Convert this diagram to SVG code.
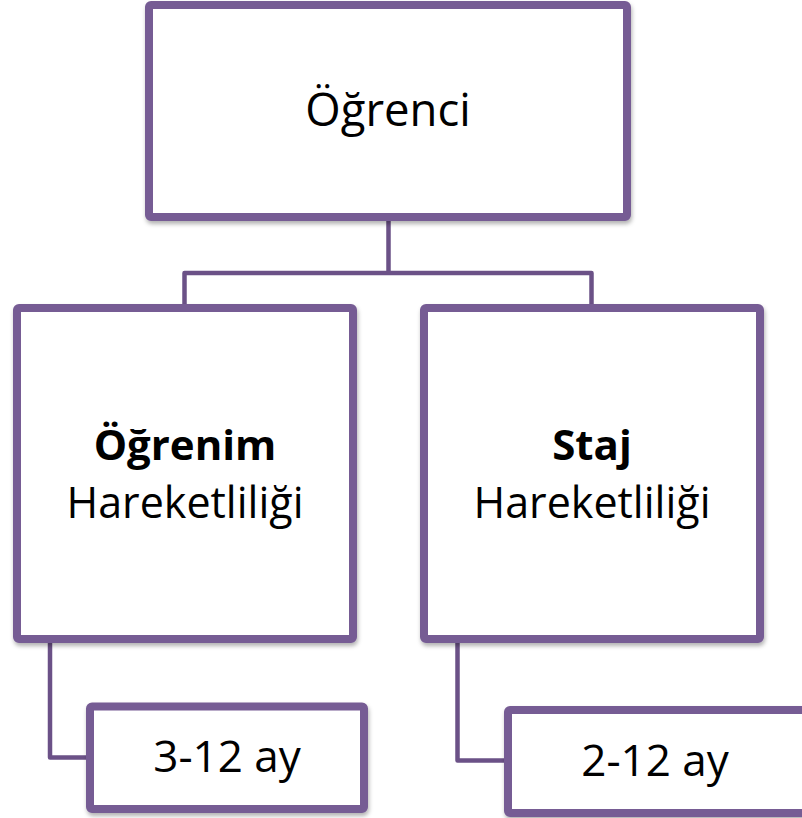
<svg xmlns="http://www.w3.org/2000/svg" width="802" height="818" viewBox="0 0 802 818">
<style>
.box{fill:#ffffff;stroke:#765B94;stroke-width:8;stroke-linejoin:round}
.conn{fill:none;stroke:#6B5187;stroke-width:4.5;stroke-linejoin:round}
.t{font-family:"Open Sans","Noto Sans","DejaVu Sans",sans-serif;fill:#000000;text-anchor:middle}
.b{font-weight:bold}
</style>
<defs>
<filter id="sh" x="-10%" y="-10%" width="120%" height="125%">
<feDropShadow dx="1" dy="3" stdDeviation="2" flood-color="#000000" flood-opacity="0.3"/>
</filter>
</defs>
<g id="connectors">
<path class="conn" d="M388.5,217 V273 M184.5,308 V273 H591.5 V308"/>
<path class="conn" d="M50,639 V757.5 H90"/>
<path class="conn" d="M457.5,639 V760.5 H508"/>
</g>
<g id="ogrenci">
<rect class="box" filter="url(#sh)" x="149" y="5" width="478" height="212" rx="2"/>
<text class="t" x="388" y="126" font-size="45.5">Öğrenci</text>
</g>
<g id="ogrenim">
<rect class="box" filter="url(#sh)" x="17" y="308" width="336" height="331" rx="2"/>
<text class="t b" x="185" y="460" font-size="42">Öğrenim</text>
<text class="t" x="185" y="518" font-size="43">Hareketliliği</text>
</g>
<g id="staj">
<rect class="box" filter="url(#sh)" x="424" y="308" width="336" height="331" rx="2"/>
<text class="t b" x="592" y="460" font-size="42">Staj</text>
<text class="t" x="592" y="518" font-size="43">Hareketliliği</text>
</g>
<g id="ogrenim-sure">
<rect class="box" filter="url(#sh)" x="90" y="706.5" width="274" height="102.5" rx="2"/>
<text class="t" x="227" y="771.5" font-size="44">3-12 ay</text>
</g>
<g id="staj-sure">
<rect class="box" filter="url(#sh)" x="508" y="710" width="304" height="103" rx="2"/>
<text class="t" x="655" y="775.5" font-size="44">2-12 ay</text>
</g>
</svg>
